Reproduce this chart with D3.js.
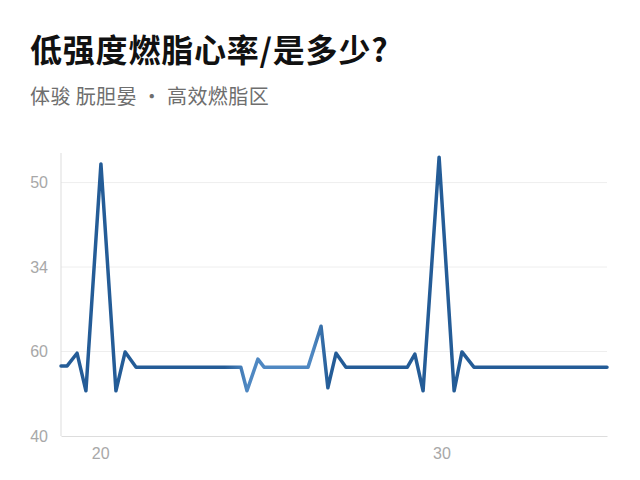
<!DOCTYPE html>
<html><head><meta charset="utf-8">
<script src="https://cdn.jsdelivr.net/npm/d3@7"></script>
<style>
html,body{margin:0;padding:0;background:#fff;}
svg{display:block;font-family:"Noto Sans CJK SC","Noto Sans",sans-serif;}
</style></head>
<body><svg id="c" width="640" height="480"></svg>
<script>
const titleText = "低强度燃脂心率/是多少?";
const subtitleText = "体骏 朊胆晏 · 高效燃脂区";
const xTickValues = [20, 30];
const xTickLabels = ["20", "30"];
const yTickValues = [40, 60, 80, 100];
const yTickLabels = ["40", "60", "34", "50"];
const xs = [18.85,19.03,19.32,19.58,20.02,20.46,20.73,21.05,24.12,24.30,24.62,24.80,26.09,26.47,26.67,26.91,27.20,29.00,29.22,29.46,29.93,30.37,30.60,30.95,34.85];
const ys = [56.6,56.6,59.6,50.7,104.4,50.7,59.9,56.3,56.3,50.7,58.2,56.3,56.3,66.0,51.4,59.6,56.3,56.3,59.4,50.7,106.0,50.7,59.9,56.3,56.3];

const svg = d3.select("#c");
const x = d3.scaleLinear().domain([18.85, 34.85]).range([61, 607]);
const y = d3.scaleLinear().domain([40, 107]).range([436, 153]);

svg.append("text").attr("x", 30).attr("y", 62).attr("font-size", 32).attr("font-weight", 700)
  .attr("letter-spacing", 0.8).attr("fill", "#111").text(titleText);
svg.append("text").attr("x", 30).attr("y", 104).attr("font-size", 20).attr("letter-spacing", 0.4)
  .attr("fill", "#6e6e6e").text(subtitleText);

// grid
svg.append("g").selectAll("line").data(yTickValues.slice(1)).join("line")
  .attr("x1", 61).attr("x2", 607).attr("y1", d => y(d)).attr("y2", d => y(d))
  .attr("stroke", "#eeeeee").attr("stroke-width", 1);

// axes
const yAxis = d3.axisLeft(y).tickValues(yTickValues).tickFormat((d, i) => yTickLabels[i]).tickSize(0).tickPadding(13);
const gy = svg.append("g").attr("transform", "translate(61,0)").call(yAxis);
gy.select(".domain").attr("stroke", "#dddddd").attr("d", `M0,${y(107)}V${y(40)}`);
gy.selectAll("text").attr("font-size", 16).attr("fill", "#a8a8a8").attr("font-family", "'Liberation Sans',sans-serif");

const xAxis = d3.axisBottom(x).tickValues(xTickValues).tickFormat((d, i) => xTickLabels[i]).tickSize(0).tickPadding(12);
const gx = svg.append("g").attr("transform", `translate(0,${y(40)})`).call(xAxis);
gx.select(".domain").attr("stroke", "#dddddd");
gx.selectAll("text").attr("font-size", 16).attr("fill", "#a8a8a8").attr("font-family", "'Liberation Sans',sans-serif");

// gradient
const defs = svg.append("defs");
const grad = defs.append("linearGradient").attr("id", "lg").attr("gradientUnits", "userSpaceOnUse")
  .attr("x1", 61).attr("x2", 607).attr("y1", 0).attr("y2", 0);
const dark = "#245c97", light = "#4f88c2";
[[0, dark], [0.3, dark], [0.34, light], [0.46, light], [0.49, dark], [1, dark]].forEach(s =>
  grad.append("stop").attr("offset", s[0]).attr("stop-color", s[1]));

const line = d3.line().x(d => x(d[0])).y(d => y(d[1]));
svg.append("path").datum(xs.map((v, i) => [v, ys[i]]))
  .attr("d", line).attr("fill", "none").attr("stroke", "url(#lg)")
  .attr("stroke-width", 3.5).attr("stroke-linejoin", "round").attr("stroke-linecap", "round");
</script></body></html>
